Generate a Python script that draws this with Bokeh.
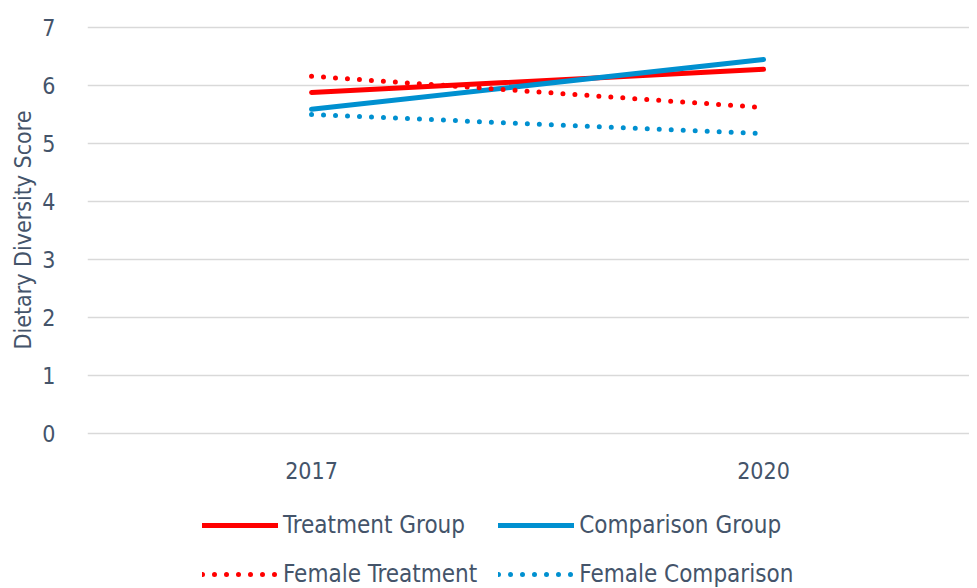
from bokeh.plotting import figure
from bokeh.models import FixedTicker, Legend, LegendItem, Range1d, Title
from bokeh.embed import file_html
from bokeh.resources import INLINE

years = [2017, 2020]
year_labels = ["2017", "2020"]
treatment = [5.88, 6.28]
comparison = [5.59, 6.45]
female_treatment = [6.16, 5.62]
female_comparison = [5.50, 5.17]
y_ticks = [0, 1, 2, 3, 4, 5, 6, 7]
y_title = "Dietary Diversity Score"

RED = "#FF0000"
BLUE = "#0090D0"
TXT = "#44546A"
FONT = "'DejaVu Sans Condensed', 'Liberation Sans', sans-serif"
FS = "23px"

p = figure(frame_width=882, frame_height=575, output_backend="svg", toolbar_location=None,
           x_range=Range1d(2015.513, 2021.367), y_range=Range1d(-2.879, 7.035),
           min_border_left=87, min_border_right=0, min_border_top=25, min_border_bottom=0)
p.outline_line_color = None
p.background_fill_color = "white"

r1 = p.line(years, treatment, line_color=RED, line_width=5, line_cap="round")
r2 = p.line(years, comparison, line_color=BLUE, line_width=5, line_cap="round")
r3 = p.line(years, female_treatment, line_color=RED, line_width=5, line_cap="round", line_dash="0 12")
r4 = p.line(years, female_comparison, line_color=BLUE, line_width=5, line_cap="round", line_dash="0 12")

p.xaxis.ticker = FixedTicker(ticks=years)
p.xaxis.major_label_overrides = {y: l for y, l in zip(years, year_labels)}
p.xaxis.fixed_location = 0
p.yaxis.ticker = FixedTicker(ticks=y_ticks)
for ax in (p.xaxis, p.yaxis):
    ax.axis_line_color = None
    ax.major_tick_line_color = None
    ax.minor_tick_line_color = None
    ax.major_label_text_font = FONT
    ax.major_label_text_font_size = FS
    ax.major_label_text_color = TXT
p.xaxis.major_label_standoff = 22
p.yaxis.major_label_standoff = 26

title = Title(text=y_title, align="right", offset=85, vertical_align="middle",
              text_font=FONT, text_font_size=FS, text_font_style="normal",
              text_color=TXT, standoff=6)
p.add_layout(title, "left")

p.xgrid.grid_line_color = None
p.ygrid.grid_line_color = "#D9D9D9"
p.ygrid.grid_line_width = 1.5

legend = Legend(items=[
    LegendItem(label="Treatment Group", renderers=[r1]),
    LegendItem(label="Comparison Group", renderers=[r2]),
    LegendItem(label="Female Treatment", renderers=[r3]),
    LegendItem(label="Female Comparison", renderers=[r4]),
], ncols=2, orientation="horizontal")
legend.label_text_font = FONT
legend.label_text_font_size = "24px"
legend.label_text_color = TXT
legend.glyph_width = 76
legend.glyph_height = 20
legend.label_height = 20
legend.label_standoff = 5
legend.spacing = 21
legend.padding = 0
legend.margin = 0
legend.border_line_color = None
legend.background_fill_alpha = 0
legend.location = (115, 12)
p.add_layout(legend, "center")

open("out.html", "w").write(file_html(p, INLINE))
